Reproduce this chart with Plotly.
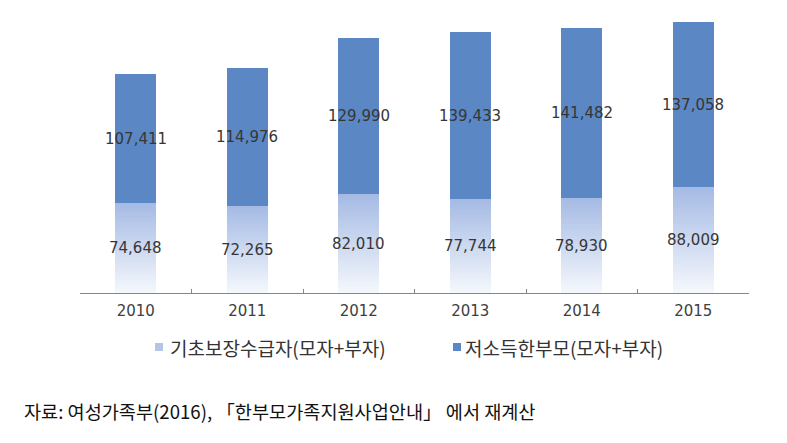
import plotly.graph_objects as go

years = ["2010", "2011", "2012", "2013", "2014", "2015"]
basic = [74648, 72265, 82010, 77744, 78930, 88009]
low_income = [107411, 114976, 129990, 139433, 141482, 137058]
name_basic = "기초보장수급자(모자+부자)"
name_low = "저소득한부모(모자+부자)"
source = "자료: 여성가족부(2016), 「한부모가족지원사업안내」 에서 재계산"

W, H = 787, 443
L, R, T, B = 80, 38, 0, 150
plot_w = W - L - R
plot_h = H - T - B
ymax = 243600

def px(x):
    return (x - L) / plot_w

def py(y):
    return (plot_h - y) / plot_h

def lerp(c1, c2, t):
    return "rgb(%d,%d,%d)" % tuple(round(a + (b - a) * t) for a, b in zip(c1, c2))

light_col = "#b4c5e6"
dark_col = "#5b87c4"

fig = go.Figure()
N = 40
c_bottom = (244, 247, 252)
c_top = (166, 187, 228)
for i in range(N):
    t = i / (N - 1)
    fig.add_trace(go.Bar(
        x=years, y=[v / N for v in basic], name=name_basic,
        marker=dict(color=lerp(c_bottom, c_top, t), line=dict(width=0)),
        showlegend=False, hoverinfo="skip", width=0.37,
    ))
fig.add_trace(go.Bar(
    x=years, y=low_income, name=name_low,
    marker=dict(color=dark_col, line=dict(width=0)),
    showlegend=False, width=0.37,
))

label_font = dict(family="DejaVu Sans", size=15, color="#363636")
for i, (b, lo) in enumerate(zip(basic, low_income)):
    fig.add_annotation(x=i, y=b / 2, text=f"{b:,}", showarrow=False,
                       font=label_font, xref="x", yref="y")
    fig.add_annotation(x=i, y=b + lo / 2, text=f"{lo:,}", showarrow=False,
                       font=label_font, xref="x", yref="y")

# legend (swatches + labels)
leg_font = dict(family="Noto Sans CJK KR", size=19, color="#333333")
for sx, tx, col, name in [(155, 168, light_col, name_basic),
                          (453, 463, dark_col, name_low)]:
    fig.add_shape(type="rect", xref="paper", yref="paper",
                  x0=px(sx), x1=px(sx + 8), y0=py(351), y1=py(343),
                  fillcolor=col, line=dict(width=0))
    fig.add_annotation(xref="paper", yref="paper", x=px(tx), y=py(347),
                       xanchor="left", yanchor="middle", showarrow=False,
                       text=name, font=leg_font)

fig.add_annotation(xref="paper", yref="paper",
                   x=px(22), y=py(410),
                   xanchor="left", yanchor="middle", showarrow=False,
                   text=source,
                   font=dict(family="Noto Sans CJK KR", size=18.6, color="#111111"))

fig.update_layout(
    width=W, height=H,
    margin=dict(l=L, r=R, t=T, b=B),
    barmode="stack",
    plot_bgcolor="white", paper_bgcolor="white",
    showlegend=False,
    xaxis=dict(type="category", categoryorder="array", categoryarray=years,
               range=[-0.5, len(years) - 0.5],
               showline=True, linecolor="#868686", linewidth=1,
               ticks="inside", tickson="boundaries", ticklen=4, tickcolor="#868686",
               tickfont=dict(family="DejaVu Sans", size=15, color="#404040"),
               ticklabelstandoff=4, showgrid=False),
    yaxis=dict(range=[0, ymax], visible=False, showgrid=False),
)
fig.write_html("out.html")
